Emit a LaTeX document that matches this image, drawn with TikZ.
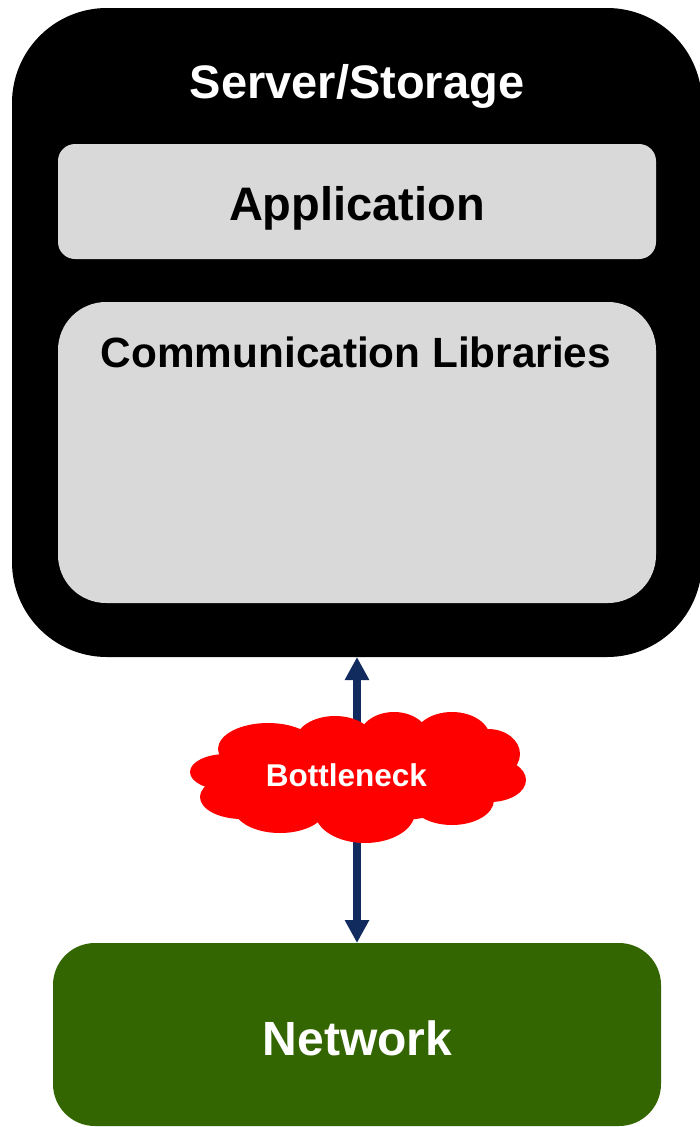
\documentclass[tikz,border=0pt]{standalone}
\usepackage{fontspec}
\setmainfont{Liberation Sans}
\usetikzlibrary{arrows.meta}
\definecolor{panelgray}{RGB}{217,217,217}
\definecolor{netgreen}{RGB}{51,102,0}
\definecolor{linknavy}{RGB}{18,43,94}
\tikzset{
  box/.style={rectangle, inner sep=0pt, outer sep=0pt},
  lbl/.style={anchor=base, inner sep=0pt, font=\bfseries},
  puff/.style={fill=red, draw=none},
}
\begin{document}
\begin{tikzpicture}[x=1pt,y=-1pt]
  \useasboundingbox (0,0) rectangle (700,1127);
  % outer host box
  \node[box, fill=black, rounded corners=95pt, minimum width=690pt, minimum height=649pt] (server) at (357,332.5) {};
  \node[box, fill=panelgray, rounded corners=17pt, minimum width=598pt, minimum height=115pt] (app) at (357,201.5) {};
  \node[box, fill=panelgray, rounded corners=48pt, minimum width=598pt, minimum height=301pt] (comm) at (357,452.5) {};
  % network box
  \node[box, fill=netgreen, rounded corners=42pt, minimum width=608pt, minimum height=183pt] (net) at (357,1034.5) {};
  % labels
  \node[lbl, text=white, font=\bfseries\fontsize{47}{56}\selectfont] (servertxt) at (357,98) {Server/Storage};
  \node[lbl, text=black, font=\bfseries\fontsize{47}{56}\selectfont] (apptxt) at (357,220) {Application};
  \node[lbl, text=black, font=\bfseries\fontsize{42.3}{50}\selectfont] (commtxt) at (356,367) {Communication Libraries};
  \node[lbl, text=white, font=\bfseries\fontsize{48}{58}\selectfont] (nettxt) at (357.5,1055) {Network};
  % link between host and network
  \draw[linknavy, line width=8pt,
        {Triangle[length=23pt,width=23pt]}-{Triangle[length=23pt,width=23pt]}]
        (server.south -| net.north) -- (net.north);
  % congestion cloud over the link, built from overlapping puffs
  \fill[puff] (358,778) ellipse [x radius=140pt, y radius=45pt];
  \fill[puff] (226,772) ellipse [x radius=36pt, y radius=18pt];
  \fill[puff] (242,797) ellipse [x radius=42pt, y radius=22pt];
  \fill[puff] (268,749) ellipse [x radius=50pt, y radius=26pt];
  \fill[puff] (335,742) ellipse [x radius=40pt, y radius=26pt];
  \fill[puff] (394,738) ellipse [x radius=35pt, y radius=26pt];
  \fill[puff] (452,738) ellipse [x radius=38pt, y radius=26pt];
  \fill[puff] (488,754) ellipse [x radius=32pt, y radius=25pt];
  \fill[puff] (490,780) ellipse [x radius=36pt, y radius=22pt];
  \fill[puff] (452,800) ellipse [x radius=42pt, y radius=25pt];
  \fill[puff] (365,812) ellipse [x radius=50pt, y radius=31pt];
  \fill[puff] (280,808) ellipse [x radius=46pt, y radius=25pt];
  \node[lbl, text=white, font=\bfseries\fontsize{31.5}{38}\selectfont] (bneck) at (346.5,786) {Bottleneck};
\end{tikzpicture}
\end{document}
